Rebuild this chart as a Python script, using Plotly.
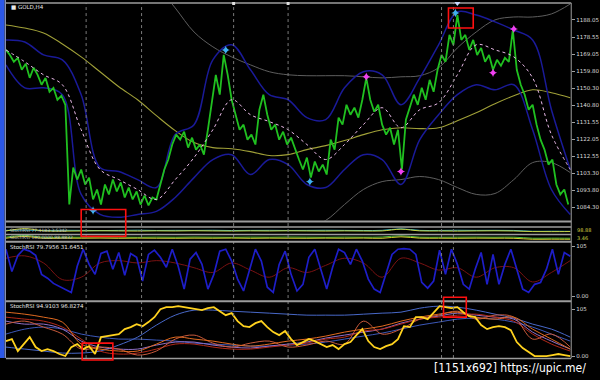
import numpy as np
import plotly.graph_objects as go

# ---------------- DATA ----------------
# Main chart: GOLD H4 close path (one value every 4 bars)
price = [
    1171.5, 1168.7, 1164.9, 1167.1, 1160.5, 1163.8, 1156.0, 1161.6, 1157.7, 1152.2,
    1156.0, 1148.3, 1150.5, 1143.9, 1146.1, 1141.1, 1085.9, 1106.4, 1099.7, 1105.3,
    1097.0, 1100.8, 1088.7, 1094.2, 1085.9, 1097.0, 1091.5, 1099.7, 1093.1, 1098.1,
    1089.8, 1095.3, 1088.7, 1093.1, 1085.9, 1090.9, 1085.4, 1089.8, 1088.7, 1097.0,
    1105.3, 1110.8, 1119.1, 1124.6, 1121.8, 1126.2, 1117.4, 1122.9, 1116.3, 1119.1,
    1113.5, 1127.3, 1143.9, 1157.7, 1146.7, 1168.7, 1157.7, 1143.9, 1135.6, 1127.3,
    1130.1, 1121.8, 1124.6, 1119.1, 1138.4, 1146.7, 1135.6, 1127.3, 1130.1, 1121.8,
    1126.2, 1119.1, 1122.9, 1116.3, 1110.8, 1105.3, 1111.9, 1100.8, 1109.7, 1104.2,
    1108.0, 1102.5, 1121.8, 1116.3, 1134.0, 1130.1, 1141.1, 1135.6, 1139.5, 1134.0,
    1143.9, 1156.0, 1143.9, 1137.3, 1141.1, 1130.1, 1124.6, 1128.4, 1119.1, 1127.3,
    1105.3, 1132.9, 1139.5, 1146.7, 1141.1, 1150.5, 1143.9, 1154.9, 1148.3, 1160.5,
    1168.7, 1164.9, 1179.8, 1174.3, 1190.8, 1177.0, 1179.8, 1171.5, 1177.0, 1168.7,
    1172.6, 1164.9, 1168.7, 1160.5, 1166.0, 1162.7, 1167.1, 1164.9, 1182.5, 1160.5,
    1152.2, 1146.7, 1138.4, 1141.1, 1130.1, 1121.8, 1116.3, 1108.0, 1110.8, 1097.0,
    1091.5, 1094.2, 1085.9,
]
PRICE_STEP = 4

# Smooth indicator lines (one value every 19 bars)
IND_STEP = 19
ma_slow = [1185.3, 1183.6, 1180.9, 1174.8, 1167.6, 1159.4, 1151.1, 1143.9, 1135.1, 1126.8,
           1120.2, 1117.4, 1116.8, 1115.2, 1113.0, 1113.5, 1116.3, 1118.5, 1121.3, 1124.6,
           1127.3, 1128.4, 1127.9, 1128.4, 1132.3, 1136.7, 1141.7, 1146.1, 1149.4, 1147.8, 1145.0]
env_upper = [1281.9, 1270.9, 1259.8, 1251.5, 1243.3, 1235.0, 1226.7, 1218.4, 1207.4, 1194.7,
             1181.4, 1173.2, 1167.6, 1163.2, 1159.4, 1157.7, 1157.2, 1157.2, 1157.2, 1156.6,
             1156.0, 1156.6, 1157.2, 1161.6, 1172.6, 1181.4, 1188.1, 1189.7, 1189.7, 1191.4, 1196.9]
env_lower = [1011.4, 1014.2, 1016.9, 1022.5, 1028.0, 1033.5, 1039.0, 1041.8, 1044.5, 1047.3,
             1051.2, 1055.6, 1060.0, 1063.9, 1066.6, 1070.5, 1073.2, 1077.1, 1085.9, 1094.2,
             1098.6, 1099.7, 1101.4, 1099.7, 1095.3, 1091.5, 1092.0, 1099.7, 1109.1, 1109.1, 1103.6]
bb_upper = [1177.0, 1175.9, 1168.7, 1166.0, 1146.7, 1106.4, 1104.2, 1099.7, 1095.3, 1124.6,
            1130.1, 1166.0, 1174.3, 1160.5, 1146.7, 1143.9, 1134.0, 1132.9, 1150.5, 1159.4,
            1157.7, 1141.1, 1156.0, 1174.3, 1192.5, 1190.8, 1187.0, 1182.5, 1177.0, 1138.4, 1105.3]
bb_lower = [1163.2, 1150.5, 1150.5, 1146.7, 1091.5, 1080.4, 1078.8, 1080.4, 1082.1, 1089.8,
            1100.8, 1110.8, 1113.5, 1102.5, 1110.8, 1108.0, 1097.0, 1095.3, 1105.3, 1113.5,
            1110.8, 1097.0, 1121.8, 1135.6, 1146.7, 1152.2, 1149.4, 1152.2, 1127.3, 1094.2, 1080.4]
ma_mid = [1171.5, 1164.9, 1157.7, 1152.2, 1127.3, 1105.3, 1099.7, 1094.2, 1088.7, 1099.7,
          1111.9, 1127.3, 1143.9, 1135.6, 1131.8, 1127.3, 1119.1, 1110.8, 1119.1, 1130.1,
          1139.5, 1128.4, 1138.4, 1142.2, 1157.7, 1174.3, 1171.5, 1167.6, 1156.0, 1124.6, 1105.3]

fractal_up_bars = [88, 222, 307, 454]
fractal_up_price = [1082.6, 1171.5, 1098.6, 1191.9]
fractal_dn_bars = [364, 399, 492, 513]
fractal_dn_price = [1156.6, 1104.2, 1158.8, 1183.1]

separator_bars = [81, 137, 230, 285, 440, 452]

price_ticks = [1188.05, 1178.55, 1169.05, 1159.80, 1150.30, 1140.80,
               1131.55, 1122.05, 1112.55, 1103.30, 1093.80, 1084.30]
price_tick_text = ["1188.05", "1178.55", "1169.05", "1159.80", "1150.30", "1140.80",
                   "1131.55", "1122.05", "1112.55", "1103.30", "1093.80", "1084.30"]
last_price = 1076.40

# Thin strips
stripB_cyan = [50, 55, 48, 52, 50, 47, 50, 53, 49, 51, 50, 52, 48, 50, 51, 49, 50, 52, 50, 48, 51, 75, 50, 49, 52, 50, 51, 49, 35, 36, 34]
stripB_yellow = [40, 80, 42, 38, 40, 43, 41, 39, 42, 40, 44, 41, 39, 42, 40, 43, 41, 39, 42, 40, 41, 70, 42, 40, 38, 41, 43, 40, 30, 29, 31]
stripC_green = [60, 85, 58, 60, 59, 61, 60, 58, 61, 59, 62, 60, 58, 61, 59, 62, 60, 58, 61, 59, 62, 80, 60, 59, 60, 61, 59, 60, 45, 46, 45]
stripC_yellow = [45, 70, 44, 46, 45, 47, 44, 46, 45, 44, 46, 45, 47, 44, 46, 45, 44, 46, 45, 47, 44, 65, 46, 45, 44, 46, 45, 44, 30, 31, 30]

# StochRSI panel 1 (one value every 6 bars)
OSC_STEP = 6
stoch1_k = [99, 52, 86, 99, 95, 86, 46, 38, 27, 21, 15, 8, 63, 99, 67, 46, 90, 95, 57, 92,
            44, 90, 82, 32, 88, 97, 82, 61, 99, 63, 15, 78, 92,
            67, 15, 46, 95, 99, 74, 36, 11, 57, 99, 74, 19, 8, 67, 95, 46, 11, 25, 82, 99,
            57, 15, 61, 99, 92, 67, 99, 74, 36, 15, 8, 46, 88, 99,
            100, 99, 88, 29, 17, 32, 97, 46, 99, 67, 25, 15, 57, 92, 25, 88, 25, 67, 99, 57,
            15, 8, 25, 29, 57, 99, 46, 92, 84]
stoch1_d = [80, 85, 70, 35, 40, 70, 75, 70, 75, 70, 60, 50, 70, 55, 40, 60, 50, 65, 80, 70,
            40, 80, 70, 55, 60, 40, 60, 60, 30, 50, 75]

# StochRSI panel 2
stoch2_main = [33.5, 38.0, 11.2, 26.8, 42.4, 20.1, 11.2, 15.6, 11.2, 4.5,
               0, 20.1, 26.8, 15.6, 22.3, 4.5, 42.4, 44.7, 46.9, 49.2,
               60.3, 64.8, 71.5, 67.0, 76.0, 87.1, 105.0, 109.5, 109.5, 111.7,
               109.5, 107.2, 105.0, 102.8, 107.2, 109.5, 100.5, 91.6, 96.1, 78.2,
               67.0, 64.8, 73.7, 78.2, 64.8, 53.6, 46.9, 55.9, 38.0, 24.6,
               31.3, 38.0, 33.5, 26.8, 20.1, 24.6, 15.6, 26.8, 31.3, 46.9,
               60.3, 33.5, 20.1, 15.6, 22.3, 26.8, 38.0, 67.0, 64.8, 87.1,
               87.1, 82.7, 96.1, 111.7, 109.5, 107.2, 109.5, 98.3, 89.4, 87.1,
               69.3, 60.3, 64.8, 67.0, 64.8, 58.1, 31.3, 17.9, 8.9, 0,
               0, 0, 2.2, 4.5, 2.2, 0]
stoch2_orange = [98.3, 93.8, 87.1, 76.0, 26.8, 15.6, 11.2, 11.2, 26.8, 42.4, 38.0, 33.5, 26.8, 22.3, 26.8, 33.5,
                 38.0, 44.7, 53.6, 60.3, 67.0, 78.2, 87.1, 93.8, 98.3, 87.1, 82.7, 87.1, 60.3, 38.0, 15.6]
stoch2_red = [87.1, 82.7, 78.2, 64.8, 38.0, 11.2, 4.5, 6.7, 15.6, 26.8, 26.8, 20.1, 15.6, 15.6, 20.1, 24.6,
              29.0, 38.0, 42.4, 55.9, 60.3, 71.5, 82.7, 87.1, 91.6, 93.8, 87.1, 78.2, 49.2, 26.8, 11.2]
stoch2_brown = [71.5, 78.2, 64.8, 49.2, 15.6, 20.1, 15.6, 2.2, 11.2, 38.0, 46.9, 29.0, 20.1, 29.0, 33.5, 20.1,
                24.6, 33.5, 26.8, 78.2, 49.2, 60.3, 82.7, 91.6, 100.5, 82.7, 91.6, 87.1, 38.0, 49.2, 20.1]
stoch2_purple = [78.2, 71.5, 71.5, 60.3, 33.5, 20.1, 15.6, 15.6, 24.6, 31.3, 31.3, 24.6, 20.1, 17.9, 22.3, 26.8,
                 31.3, 40.2, 46.9, 53.6, 60.3, 73.7, 82.7, 89.4, 96.1, 91.6, 87.1, 82.7, 53.6, 33.5, 15.6]
stoch2_blueA = [49.2, 60.3, 64.8, 60.3, 49.2, 42.4, 38.0, 38.0, 35.7, 33.5, 29.0, 26.8, 24.6, 22.3, 22.3, 24.6,
                26.8, 31.3, 38.0, 44.7, 51.4, 60.3, 69.3, 76.0, 82.7, 84.9, 82.7, 76.0, 64.8, 49.2, 33.5]
stoch2_blueB = [20.1, 15.6, 11.2, 6.7, 6.7, 11.2, 24.6, 42.4, 69.3, 91.6, 102.8, 102.8, 100.5, 98.3, 96.1, 93.8,
                91.6, 91.6, 91.6, 93.8, 96.1, 98.3, 107.2, 111.7, 109.5, 102.8, 93.8, 84.9, 71.5, 60.3, 42.4]

label_main = "GOLD,H4"
label_stripB = "StochRSI 77.4183 3.5342"
label_stripC = "StochRSI 100.0000 98.8832"
label_p1 = "StochRSI 79.7956 31.6451"
label_p2 = "StochRSI 94.9103 96.8274"
watermark = "[1151x692] https://upic.me/"

# ---------------- FIGURE ----------------
W, H = 600, 380


def px(x):
    return x / W


def py(y):
    return 1 - y / H


def bars(n, step):
    return np.arange(n) * step


fig = go.Figure()


def line(y, step, axis, color, width=1.0, dash=None, shape="linear"):
    fig.add_trace(go.Scatter(
        x=bars(len(y), step), y=y, yaxis=axis, mode="lines",
        line=dict(color=color, width=width, dash=dash, shape=shape),
        hoverinfo="skip", showlegend=False))


# main chart
line(env_upper, IND_STEP, "y", "#5e5e5e", 1, shape="spline")
line(env_lower, IND_STEP, "y", "#5e5e5e", 1, shape="spline")
line(ma_slow, IND_STEP, "y", "#a0a038", 1.1, shape="spline")
line(bb_upper, IND_STEP, "y", "#1a1a98", 1.5, shape="spline")
line(bb_lower, IND_STEP, "y", "#1a1a98", 1.5, shape="spline")
line(price, PRICE_STEP, "y", "#20c020", 1.8)
line(ma_mid, IND_STEP, "y", "#e8b8e6", 1, dash="dot", shape="spline")
fig.add_trace(go.Scatter(x=fractal_up_bars, y=fractal_up_price, yaxis="y", mode="markers",
                         marker=dict(symbol="star-diamond", size=6, color="#3fb0f0"),
                         hoverinfo="skip", showlegend=False))
fig.add_trace(go.Scatter(x=fractal_dn_bars, y=fractal_dn_price, yaxis="y", mode="markers",
                         marker=dict(symbol="star-diamond", size=6, color="#f040f0"),
                         hoverinfo="skip", showlegend=False))

# strips
line(stripB_cyan, IND_STEP, "y2", "#38b8c8", 1, shape="spline")
line(stripB_yellow, IND_STEP, "y2", "#c8d040", 1, shape="spline")
line(stripC_green, IND_STEP, "y3", "#50c040", 1, shape="spline")
line(stripC_yellow, IND_STEP, "y3", "#d8d030", 1, shape="spline")

# StochRSI 1
line(stoch1_d, IND_STEP, "y4", "#7a1212", 1, shape="spline")
line(stoch1_k, OSC_STEP, "y4", "#1e1ec8", 1.7)

# StochRSI 2
line(stoch2_blueB, IND_STEP, "y5", "#4868c8", 1, shape="spline")
line(stoch2_blueA, IND_STEP, "y5", "#3c58b8", 1, shape="spline")
line(stoch2_purple, IND_STEP, "y5", "#9070c8", 1, shape="spline")
line(stoch2_red, IND_STEP, "y5", "#b02818", 1, shape="spline")
line(stoch2_brown, IND_STEP, "y5", "#c85a3c", 1, shape="spline")
line(stoch2_orange, IND_STEP, "y5", "#e06a20", 1, shape="spline")
line(stoch2_main, OSC_STEP, "y5", "#ffd21e", 1.8)

tickfont = dict(family="DejaVu Sans", size=5.5, color="#dcdcdc")
hidden = dict(visible=False, anchor="x", fixedrange=True)

fig.update_layout(
    width=W, height=H, margin=dict(l=0, r=0, t=0, b=0),
    paper_bgcolor="#000000", plot_bgcolor="#000000",
    showlegend=False,
    xaxis=dict(domain=[px(6), px(577)], range=[0, 571], visible=False),
    yaxis=dict(domain=[py(221), py(4)], range=[1077.1, 1196.9], side="right", anchor="x",
               tickvals=price_ticks, ticktext=price_tick_text, showgrid=False, zeroline=False,
               ticks="outside", ticklen=3, tickcolor="#a0a0a0", tickfont=tickfont,
               showline=False),
    yaxis2=dict(domain=[py(234), py(228)], range=[0, 100], **hidden),
    yaxis3=dict(domain=[py(242), py(235)], range=[0, 100], **hidden),
    yaxis4=dict(domain=[py(301), py(243)], range=[-8.4, 113.4], side="right", anchor="x",
                tickvals=[105, 0], ticktext=["105", "0.00"], showgrid=False, zeroline=False,
                ticks="outside", ticklen=3, tickcolor="#a0a0a0", tickfont=tickfont),
    yaxis5=dict(domain=[py(359), py(303)], range=[-4.5, 120.6], side="right", anchor="x",
                tickvals=[105, 0], ticktext=["105", "0.00"], showgrid=False, zeroline=False,
                ticks="outside", ticklen=3, tickcolor="#a0a0a0", tickfont=tickfont),
)

shapes = []
# period separators
for b in separator_bars:
    shapes.append(dict(type="line", xref="x", yref="paper", x0=b, x1=b, y0=py(359), y1=py(3),
                       line=dict(color="#7a7a7a", width=1, dash="dot")))
# frame
grey = "#9c9c9c"
shapes.append(dict(type="line", xref="paper", yref="paper", x0=px(6), x1=px(577), y0=py(3), y1=py(3),
                   line=dict(color=grey, width=1.5)))
shapes.append(dict(type="line", xref="paper", yref="paper", x0=px(577), x1=px(577), y0=py(359), y1=py(3),
                   line=dict(color=grey, width=1)))
for yy, w in [(222, 2), (227.5, 1.5), (235, 1.5), (242.5, 2), (302, 2), (359.5, 1.5)]:
    shapes.append(dict(type="line", xref="paper", yref="paper", x0=px(6), x1=px(577), y0=py(yy), y1=py(yy),
                       line=dict(color=grey, width=w)))
# left blue bar
shapes.append(dict(type="rect", xref="paper", yref="paper", x0=0, x1=px(4.5), y0=py(359), y1=1,
                   fillcolor="#2c58e8", line=dict(width=0)))
shapes.append(dict(type="line", xref="paper", yref="paper", x0=px(5.3), x1=px(5.3), y0=py(359), y1=1,
                   line=dict(color="#b8c4f0", width=1)))
# small markers on top border
for xx in (236, 291):
    shapes.append(dict(type="rect", xref="paper", yref="paper", x0=px(xx - 1.5), x1=px(xx + 1.5),
                       y0=py(5), y1=py(2), fillcolor="#e0e0e0", line=dict(width=0)))
shapes.append(dict(type="path", xref="paper", yref="paper",
                   path=f"M {px(459)},{py(2)} L {px(465)},{py(2)} L {px(462)},{py(6)} Z",
                   fillcolor="#c8d8ff", line=dict(width=0)))
# red highlight boxes
for (x0, y0, x1, y1) in [(82, 210, 127, 237), (453, 8, 478, 28), (448, 298, 471, 318), (83, 344, 114, 361)]:
    shapes.append(dict(type="rect", xref="paper", yref="paper", x0=px(x0), x1=px(x1), y0=py(y1), y1=py(y0),
                       line=dict(color="#ff1010", width=1.6), fillcolor="rgba(0,0,0,0)"))
fig.update_layout(shapes=shapes)

small = dict(family="DejaVu Sans", size=5.5, color="#e8e8e8")
ann = [
    dict(text="■ " + label_main, x=px(9), y=py(7), xref="paper", yref="paper", xanchor="left",
         yanchor="middle", showarrow=False, font=small),
    dict(text=label_stripB, x=px(8), y=py(231), xref="paper", yref="paper", xanchor="left",
         yanchor="middle", showarrow=False, font=dict(family="DejaVu Sans", size=4.5, color="#c8c8c8")),
    dict(text=label_stripC, x=px(8), y=py(238.5), xref="paper", yref="paper", xanchor="left",
         yanchor="middle", showarrow=False, font=dict(family="DejaVu Sans", size=4.5, color="#c8c8c8")),
    dict(text=label_p1, x=px(8), y=py(248), xref="paper", yref="paper", xanchor="left",
         yanchor="middle", showarrow=False, font=small),
    dict(text=label_p2, x=px(8), y=py(307), xref="paper", yref="paper", xanchor="left",
         yanchor="middle", showarrow=False, font=small),
    dict(text=f"{last_price:.2f}", x=px(579), y=last_price, xref="paper", yref="y", xanchor="left",
         yanchor="middle", showarrow=False, bgcolor="#ffffff", borderpad=0.5,
         font=dict(family="DejaVu Sans", size=5.5, color="#000000")),
    dict(text="98.88", x=px(581), y=py(231), xref="paper", yref="paper", xanchor="left",
         yanchor="middle", showarrow=False, font=dict(family="DejaVu Sans", size=5, color="#d8d040")),
    dict(text="3.46", x=px(581), y=py(239), xref="paper", yref="paper", xanchor="left",
         yanchor="middle", showarrow=False, font=dict(family="DejaVu Sans", size=5, color="#c8d040")),
    dict(text=watermark, x=px(594), y=py(369), xref="paper", yref="paper", xanchor="right",
         yanchor="middle", showarrow=False,
         font=dict(family="DejaVu Sans Condensed, Liberation Sans Narrow, sans-serif", size=12,
                   color="#ffffff")),
]
fig.update_layout(annotations=ann)

fig.write_html("out.html")
